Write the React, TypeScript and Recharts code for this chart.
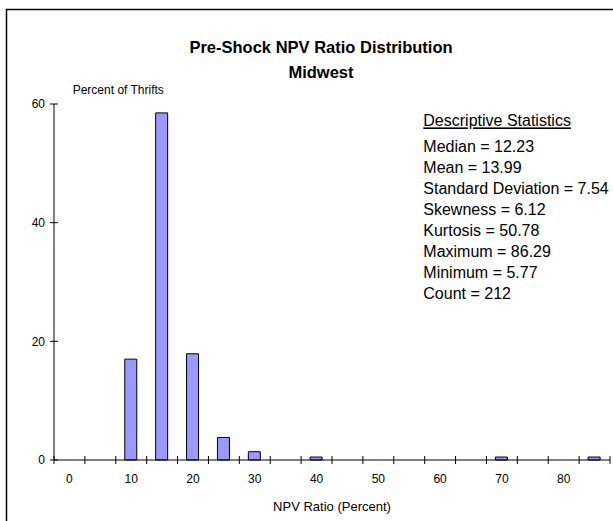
import { BarChart, Bar, XAxis, YAxis } from "recharts";

const FONT = "'Liberation Sans', Arial, sans-serif";

// histogram bins (centre of each 5-point bin) and share of thrifts in each
const bins = [0, 5, 10, 15, 20, 25, 30, 35, 40, 45, 50, 55, 60, 65, 70, 75, 80, 85];
const percentOfThrifts = [null, null, 17.0, 58.5, 17.9, 3.8, 1.4, null, 0.5, null, null, null, null, null, 0.5, null, null, 0.5];

const binEdges = [-2.5, 2.5, 7.5, 12.5, 17.5, 22.5, 27.5, 32.5, 37.5, 42.5, 47.5, 52.5, 57.5, 62.5, 67.5, 72.5, 77.5, 82.5, 87.5];
const xLabels = [0, 10, 20, 30, 40, 50, 60, 70, 80];
const yTicks = [0, 20, 40, 60];

const statLines = [
  "Median = 12.23",
  "Mean = 13.99",
  "Standard Deviation = 7.54",
  "Skewness = 6.12",
  "Kurtosis = 50.78",
  "Maximum = 86.29",
  "Minimum = 5.77",
  "Count = 212",
];

const data = bins.map((b, i) => ({ bin: b, pct: percentOfThrifts[i] }));
const xTicks = [...binEdges, ...xLabels].sort((a, b) => a - b);

function XTick(props: any) {
  const { x, y, payload } = props;
  if (xLabels.includes(payload.value)) {
    return (
      <text x={x} y={y + 23} textAnchor="middle" fontSize={12} fontFamily={FONT} fill="#000">
        {payload.value}
      </text>
    );
  }
  return <line x1={x} x2={x} y1={y - 4} y2={y + 4} stroke="#000" strokeWidth={1} />;
}

function YTick(props: any) {
  const { x, y, payload } = props;
  return (
    <g>
      <line x1={x - 4} x2={x + 4} y1={y} y2={y} stroke="#000" strokeWidth={1} />
      <text x={x - 9} y={y + 4.3} textAnchor="end" fontSize={12} fontFamily={FONT} fill="#000">
        {payload.value}
      </text>
    </g>
  );
}

export default function App() {
  return (
    <div style={{ position: "fixed", left: 0, top: 0, width: 613, height: 521, overflow: "hidden", background: "#fff" }}>
      <BarChart width={613} height={521} data={data} margin={{ top: 104, right: 3, bottom: 0, left: 0 }}>
        <XAxis
          dataKey="bin"
          type="number"
          domain={[-2.5, 87.5]}
          ticks={xTicks}
          interval={0}
          height={61}
          tickSize={0}
          tickMargin={0}
          tickLine={false}
          tick={<XTick />}
          axisLine={{ stroke: "#000" }}
        />
        <YAxis
          type="number"
          domain={[0, 60]}
          ticks={yTicks}
          width={54}
          tickSize={0}
          tickMargin={0}
          tickLine={false}
          tick={<YTick />}
          axisLine={{ stroke: "#000" }}
        />
        <Bar dataKey="pct" barSize={12} fill="#9999FF" stroke="#000" strokeWidth={1} isAnimationActive={false} />
      </BarChart>
      <svg width={613} height={521} style={{ position: "absolute", left: 0, top: 0, pointerEvents: "none" }}>
        <rect x={6.5} y={9.5} width={700} height={600} fill="none" stroke="#000" strokeWidth={1.5} />
        <text x={321} y={53} textAnchor="middle" fontSize={16.5} fontWeight="bold" fontFamily={FONT} fill="#000">
          Pre-Shock NPV Ratio Distribution
        </text>
        <text x={321} y={77.5} textAnchor="middle" fontSize={16.5} fontWeight="bold" fontFamily={FONT} fill="#000">
          Midwest
        </text>
        <text x={72.7} y={94.3} fontSize={12} fontFamily={FONT} fill="#000">
          Percent of Thrifts
        </text>
        <text x={332} y={510.7} textAnchor="middle" fontSize={13} fontFamily={FONT} fill="#000">
          NPV Ratio (Percent)
        </text>
        <text x={423.3} y={126.4} fontSize={16} fontFamily={FONT} fill="#000" textDecoration="underline">
          Descriptive Statistics
        </text>
        {statLines.map((s, i) => (
          <text key={s} x={423.3} y={152.4 + i * 21} fontSize={16} fontFamily={FONT} fill="#000">
            {s}
          </text>
        ))}
      </svg>
    </div>
  );
}
